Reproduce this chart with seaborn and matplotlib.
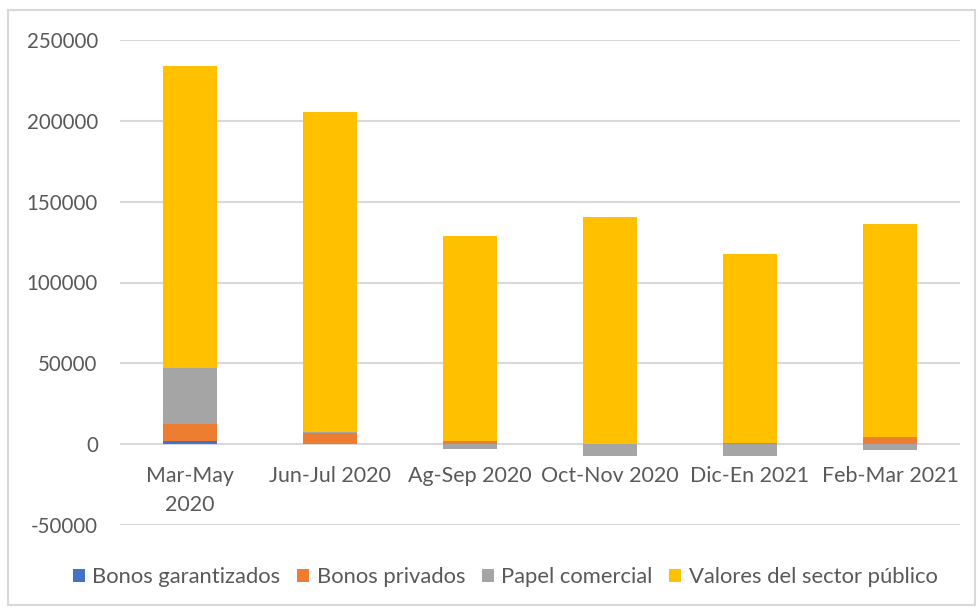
import numpy as np
import matplotlib
matplotlib.use("Agg")
import matplotlib.pyplot as plt
from matplotlib.patches import Rectangle, Patch
import seaborn as sns

# -----------------------------
# Data
# -----------------------------
periods = ["Mar-May\n2020", "Jun-Jul 2020", "Ag-Sep 2020",
           "Oct-Nov 2020", "Dic-En 2021", "Feb-Mar 2021"]
bonos_garantizados = [1800, 0, 0, 0, 0, 0]
bonos_privados = [10500, 6800, 2000, 0, 1000, 4700]
papel_comercial = [35000, 800, -2700, -7600, -7600, -3500]
valores_publico = [186700, 198000, 126700, 140500, 116800, 131700]

series = [
    ("Bonos garantizados", bonos_garantizados, "#4472C4"),
    ("Bonos privados", bonos_privados, "#ED7D31"),
    ("Papel comercial", papel_comercial, "#A5A5A5"),
    ("Valores del sector público", valores_publico, "#FFC000"),
]

text_color = "#595959"
grid_color = "#D9D9D9"

# -----------------------------
# Plot
# -----------------------------
sns.set_style("white")
plt.rcParams["font.family"] = ["Lato", "DejaVu Sans"]

fig = plt.figure(figsize=(9.79, 6.10), dpi=100)
ax = fig.add_axes([120 / 979, 1 - 525 / 610, 840 / 979, 485 / 610])

pos_base = np.zeros(len(periods))
neg_base = np.zeros(len(periods))
for name, vals, color in series:
    vals = np.array(vals, dtype=float)
    bottom = np.where(vals >= 0, pos_base, neg_base)
    sns.barplot(x=periods, y=vals, bottom=bottom, color=color,
                width=0.39, saturation=1, linewidth=0, ax=ax, zorder=3)
    pos_base += np.where(vals > 0, vals, 0)
    neg_base += np.where(vals < 0, vals, 0)

ax.set_ylim(-50000, 250000)
ax.set_xlim(-0.5, len(periods) - 0.5)
ax.set_yticks(np.arange(-50000, 250001, 50000))
ax.set_yticklabels([str(v) for v in range(-50000, 250001, 50000)])
ax.yaxis.grid(True, color=grid_color, linewidth=1.5, zorder=0)
ax.set_axisbelow(True)
ax.tick_params(axis="y", length=0, pad=16, labelsize=14.8, labelcolor=text_color)
ax.set_xticks([])
ax.set_xlabel("")
ax.set_ylabel("")
sns.despine(ax=ax, left=True, bottom=True)

# category labels sit next to the zero line, as in Excel
for i, lab in enumerate(periods):
    ax.annotate(lab, xy=(i, 0), xytext=(0, -16), textcoords="offset points",
                ha="center", va="top", fontsize=15.4, color=text_color,
                linespacing=1.55)

handles = [Patch(facecolor=c, edgecolor="none") for _, _, c in series]
fig.legend(handles, [n for n, _, _ in series], loc="center",
           bbox_to_anchor=(0.516, 1 - 577 / 610), ncol=4, frameon=False,
           fontsize=15.8, labelcolor=text_color, handlelength=0.55,
           handleheight=0.55, handletextpad=0.35, columnspacing=0.75)

# chart area border
fig.patches.append(Rectangle((8 / 979, 1 - 605 / 610), 967 / 979, 595 / 610,
                             transform=fig.transFigure, fill=False,
                             edgecolor=grid_color, linewidth=1.5))

fig.savefig("out.png", dpi=100)
